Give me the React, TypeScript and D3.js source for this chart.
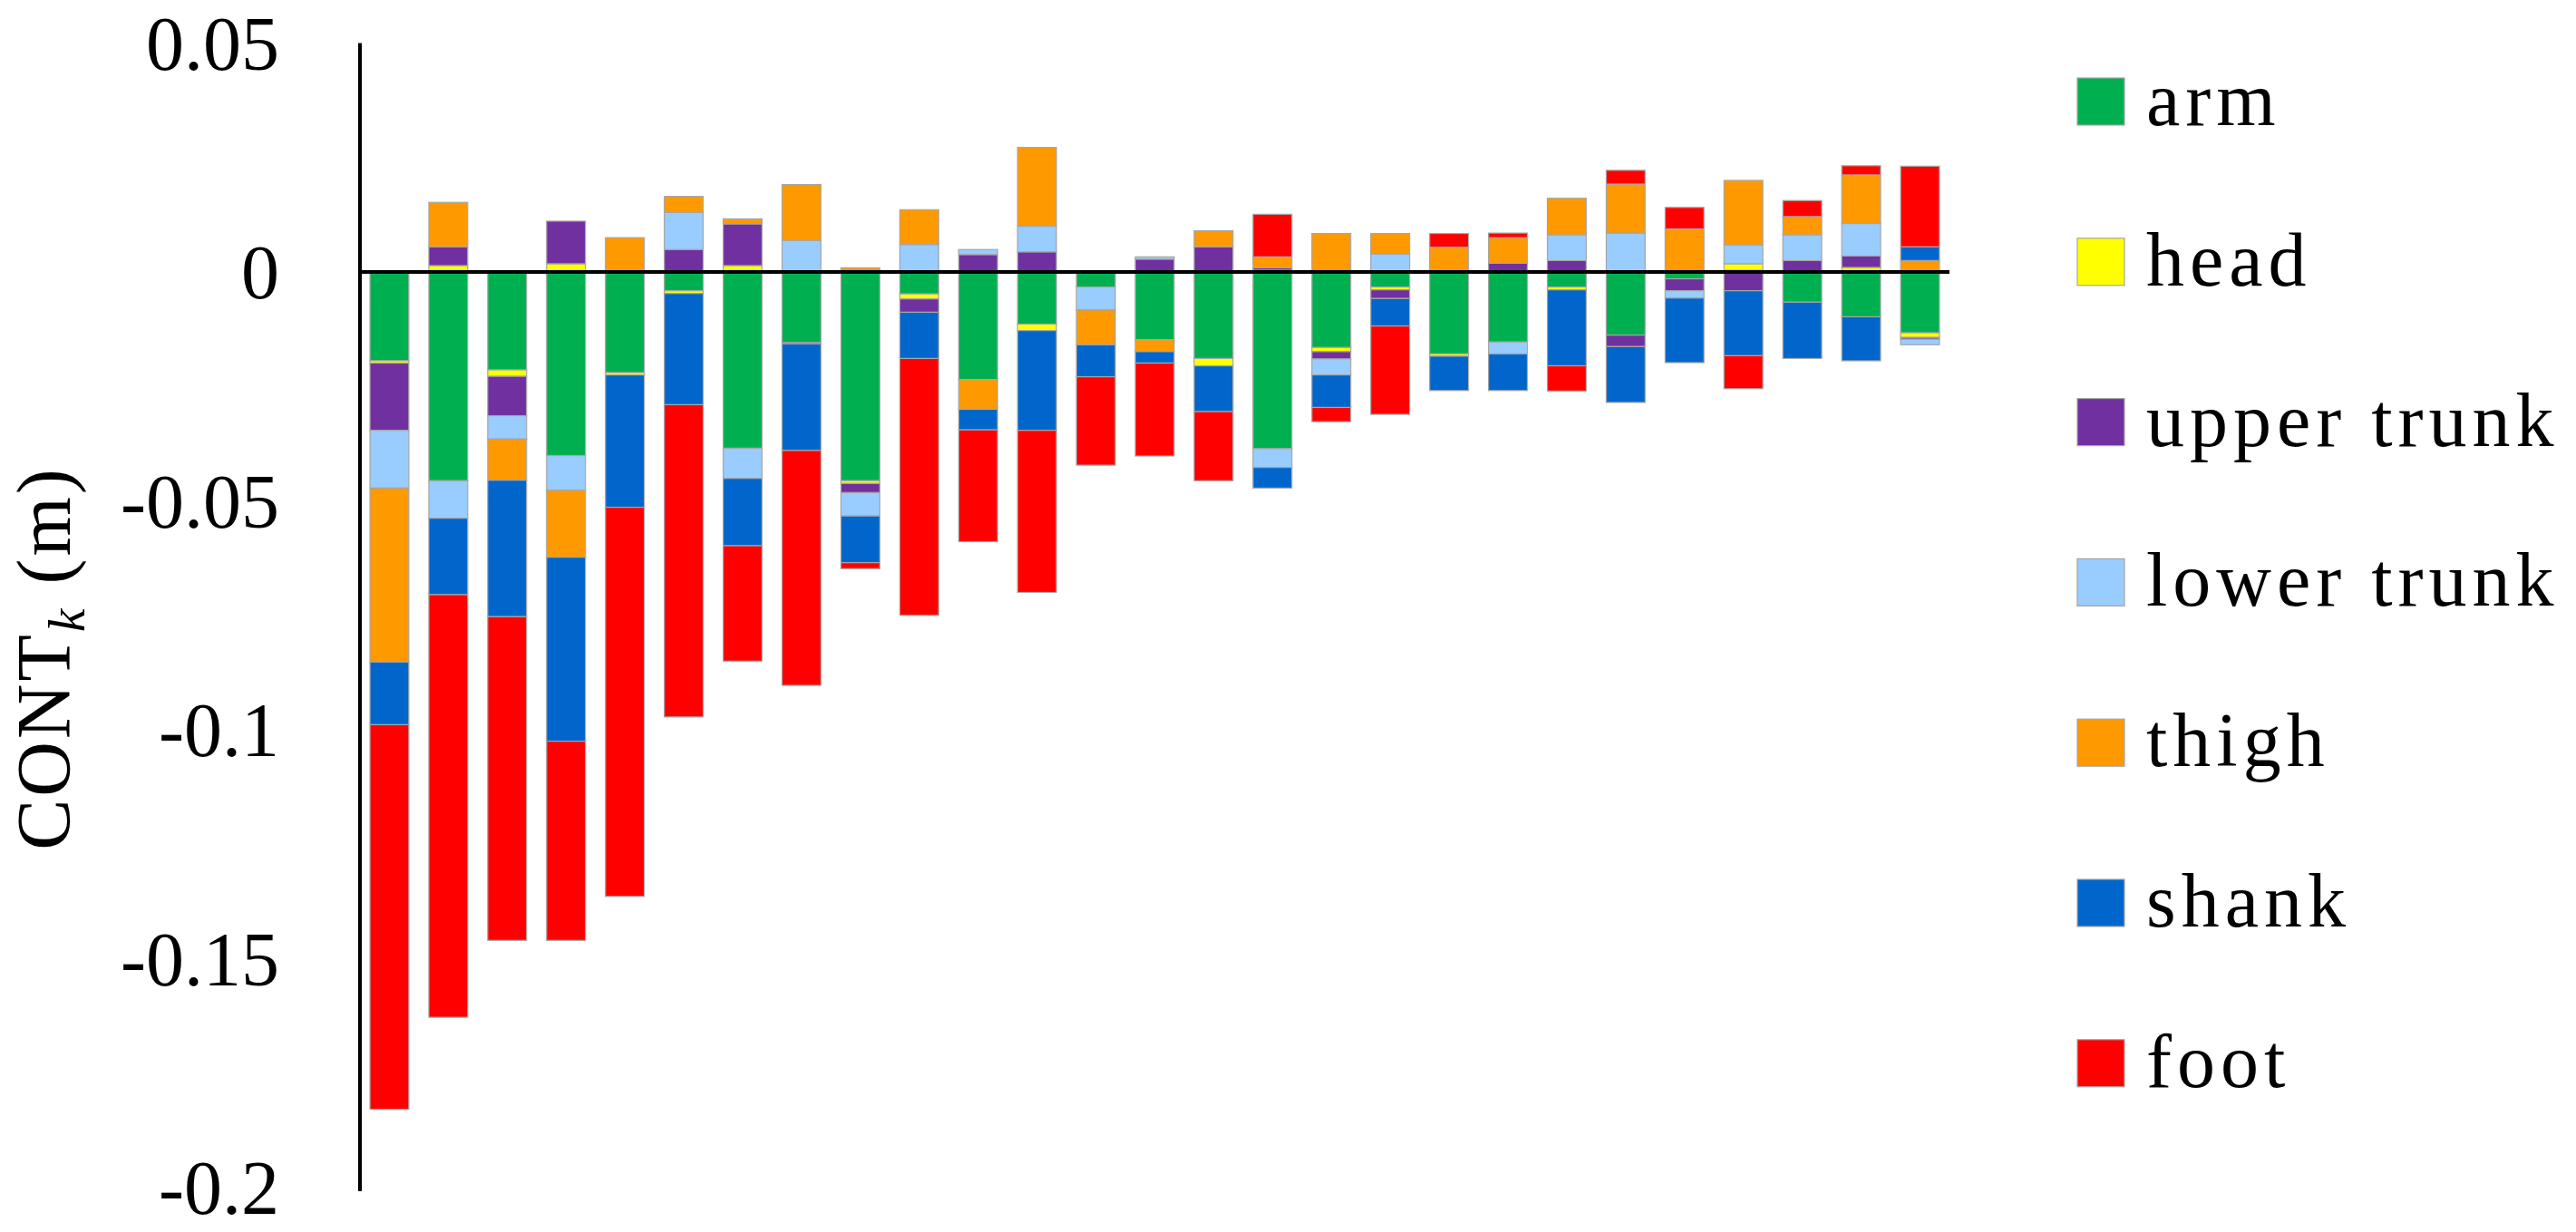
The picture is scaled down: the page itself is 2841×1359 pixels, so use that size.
import React from "react";
import * as d3 from "d3";

const subjects = [
  "1", "2", "3", "4", "5", "6", "7", "8", "9", "10", "11", "12", "13", "14",
  "15", "16", "17", "18", "19", "20", "21", "22", "23", "24", "25", "26", "27",
];

const segments = ["arm", "head", "upper trunk", "lower trunk", "thigh", "shank", "foot"];
const colors = ["#00b050", "#ffff00", "#7030a0", "#99ccff", "#ff9900", "#0066cc", "#ff0000"];

const arm = [
  -0.0194, -0.0456, -0.0214, -0.0401, -0.022, -0.0041, -0.0385, -0.0154, -0.0456,
  -0.0048, -0.0235, -0.0114, -0.0033, -0.0148, -0.0189, -0.0386, -0.0165, -0.0033,
  -0.0179, -0.0153, -0.0033, -0.0138, -0.0015, 0.0004, -0.0066, -0.0098, -0.0133,
];
const head = [
  -0.0005, 0.0014, -0.0014, 0.0018, -0.0005, -0.0006, 0.0014, 0, -0.0006,
  -0.0011, 0, -0.0014, 0, 0, -0.0016, 0.0004, -0.0009, -0.0006,
  -0.0005, 0, -0.0006, 0, 0, 0.0014, 0, 0.001, -0.001,
];
const upperTrunk = [
  -0.0147, 0.0041, -0.0086, 0.0093, 0, 0.0049, 0.0091, -0.0003, -0.002,
  -0.0029, 0.0038, 0.0044, 0, 0.0028, 0.0055, 0.0005, -0.0016, -0.0019,
  0, 0.0019, 0.0025, -0.0025, -0.0026, -0.0041, 0.0025, 0.0025, -0.0004,
];
const lowerTrunk = [
  -0.0126, -0.0082, -0.0051, -0.0076, 0.0004, 0.0081, -0.0066, 0.0069, -0.0051,
  0.006, 0.0011, 0.0056, -0.005, 0.0005, 0, -0.0041, -0.0035, 0.0039,
  0.0004, -0.0026, 0.0056, 0.0085, -0.0016, 0.0041, 0.0056, 0.0071, -0.0012,
];
const thigh = [
  -0.038, 0.0097, -0.009, -0.0146, 0.0071, 0.0035, 0.0011, 0.0122, 0.0009,
  0.0076, -0.0065, 0.0172, -0.0076, -0.0026, 0.0035, 0.0024, 0.0084, 0.0045,
  0.005, 0.0056, 0.008, 0.0107, 0.0094, 0.0141, 0.004, 0.0106, 0.0025,
];
const shank = [
  -0.0137, -0.0167, -0.0298, -0.0402, -0.0289, -0.0243, -0.0147, -0.0233, -0.0102,
  -0.0101, -0.0045, -0.0218, -0.007, -0.0025, -0.01, -0.0045, -0.0071, -0.006,
  -0.0075, -0.008, -0.0166, -0.0122, -0.0141, -0.0142, -0.0123, -0.0096, 0.003,
];
const foot = [
  -0.084, -0.0923, -0.0707, -0.0435, -0.085, -0.0682, -0.0252, -0.0513, -0.0013,
  -0.0561, -0.0244, -0.0354, -0.0193, -0.0203, -0.0151, 0.0093, -0.0031, -0.0193,
  0.003, 0.001, -0.0055, 0.003, 0.0047, -0.0072, 0.0035, 0.002, 0.0176,
];

const yTicks = [0.05, 0, -0.05, -0.1, -0.15, -0.2];
const yTickLabels = ["0.05", "0", "-0.05", "-0.1", "-0.15", "-0.2"];

const width = 2841;
const height = 1359;
const axisX = 397;
const plotRight = 2150;
const font = "'Palatino Linotype', 'Book Antiqua', Palatino, 'Liberation Serif', 'DejaVu Serif', serif";

const series = [arm, head, upperTrunk, lowerTrunk, thigh, shank, foot];
const rows = subjects.map((s, i) => {
  const row: Record<string, any> = { subject: s };
  segments.forEach((k, j) => (row[k] = series[j][i]));
  return row;
});

const App = () => {
  const x = d3
    .scaleBand()
    .domain(subjects)
    .range([axisX, plotRight])
    .paddingInner(0.34)
    .paddingOuter(0.17);

  const y = d3.scaleLinear().domain([-0.2, 0.05]).range([1310, 47.5]);

  const color = d3.scaleOrdinal<string>().domain(segments).range(colors);

  const stacked = d3
    .stack()
    .keys(segments)
    .order(d3.stackOrderNone)
    .offset(d3.stackOffsetDiverging)(rows as any);

  return (
    <svg
      width={width}
      height={height}
      style={{ position: "absolute", left: 0, top: 0, background: "#fff" }}
      fontFamily={font}
    >
      {stacked.map((s) => (
        <g key={s.key} fill={color(s.key)}>
          {s
            .filter((d) => d[1] - d[0] !== 0)
            .map((d) => (
              <rect
                key={d.data.subject as string}
                x={x(d.data.subject as string)}
                width={x.bandwidth()}
                y={y(Math.max(d[0], d[1]))}
                height={Math.abs(y(d[0]) - y(d[1]))}
                stroke="#a6a6a6"
                strokeWidth={1.2}
              />
            ))}
        </g>
      ))}

      {/* zero line and vertical axis */}
      <line x1={axisX} x2={plotRight} y1={y(0)} y2={y(0)} stroke="#000" strokeWidth={4} />
      <line x1={axisX} x2={axisX} y1={y(0.05)} y2={y(-0.2) + 4} stroke="#000" strokeWidth={4} />

      {yTicks.map((t, i) => (
        <text key={t} x={308} y={y(t)} dy="0.35em" textAnchor="end" fontSize={84}>
          {yTickLabels[i]}
        </text>
      ))}

      <text
        transform="translate(77,726) rotate(-90)"
        textAnchor="middle"
        fontSize={84}
        letterSpacing={3}
      >
        CONT
        <tspan fontStyle="italic" fontSize={58} dy={16}>
          k
        </tspan>
        <tspan dy={-16}> (m)</tspan>
      </text>

      {segments.map((k, i) => {
        const cy = 112 + i * 176.8;
        return (
          <g key={k}>
            <rect x={2291} y={cy - 26} width={52} height={52} fill={color(k)} stroke="#a6a6a6" strokeWidth={1.2} />
            <text x={2367} y={cy + 26} fontSize={84} letterSpacing={6}>
              {k}
            </text>
          </g>
        );
      })}
    </svg>
  );
};

export default App;
